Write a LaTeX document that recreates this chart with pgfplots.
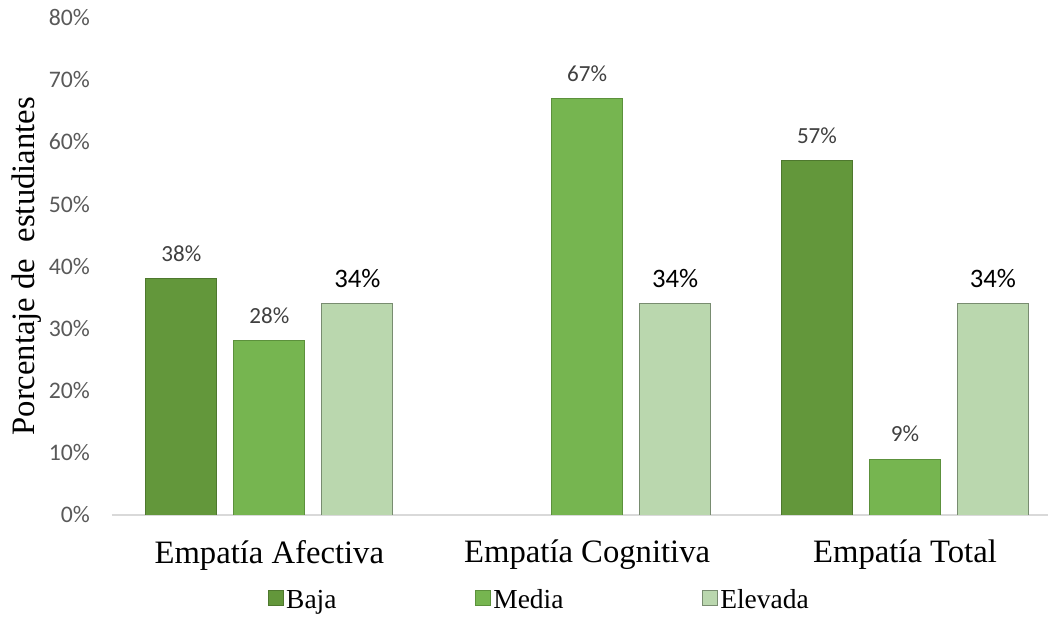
\documentclass[border=0pt]{standalone}
\usepackage{pgfplots}
\pgfplotsset{compat=1.18}
\usepackage{fontspec}
\setmainfont{Liberation Serif}
\newfontfamily\calibri{Carlito}
\definecolor{baja}{RGB}{99,151,59}
\definecolor{bajaedge}{RGB}{78,120,46}
\definecolor{media}{RGB}{118,181,80}
\definecolor{mediaedge}{RGB}{92,145,60}
\definecolor{elevada}{RGB}{186,215,174}
\definecolor{elevadaedge}{RGB}{120,140,112}
\definecolor{tickgray}{RGB}{89,89,89}
\definecolor{labelgray}{RGB}{64,64,64}
\definecolor{axisgray}{RGB}{217,217,217}

\begin{document}
\begin{tikzpicture}
\useasboundingbox (-84pt,-87pt) rectangle (706.5pt,386.25pt);
\begin{axis}[
  at={(0,0)}, anchor=south west,
  scale only axis,
  width=702pt, height=373.125pt,
  xmin=-0.495, xmax=2.45,
  ymin=0, ymax=80,
  ybar, bar width=53.25pt,
  axis x line=bottom, axis y line=left,
  x axis line style={draw=axisgray, line width=1.5pt, -},
  y axis line style={draw=none},
  major tick length=0pt,
  xtick={0,1,2},
  xticklabels={Empatía Afectiva, Empatía Cognitiva, Empatía Total},
  x tick label style={font=\fontsize{24.5}{26}\selectfont, anchor=center, yshift=-30pt},
  ytick={0,10,...,80},
  yticklabel={\pgfmathprintnumber{\tick}\%},
  /pgf/number format/assume math mode=true,
  y tick label style={font=\calibri\fontsize{17.8}{20}\selectfont, color=tickgray, anchor=east, xshift=-13pt},
  ylabel={Porcentaje de \ estudiantes},
  every axis y label/.style={at={(axis description cs:0,0.5)}, xshift=-63.75pt, rotate=90, anchor=center, font=\fontsize{24.5}{26}\selectfont},
  nodes near coords={\pgfmathprintnumber{\pgfplotspointmeta}\%},
  nodes near coords style={anchor=center, yshift=18.75pt, font=\calibri\fontsize{17.3}{19}\selectfont, color=labelgray},
  legend columns=3,
  legend style={at={(axis description cs:0.457,-0.171)}, anchor=center, draw=none,
    font=\fontsize{20.6}{22}\selectfont,
    /tikz/every even column/.append style={column sep=102pt}},
  legend image code/.code={\path[#1] (0pt,-4pt) rectangle (11pt,7pt);},
]
\addplot[fill=baja, draw=bajaedge, line width=0.6pt, bar shift=-66pt]
  coordinates {(0,38) (2,57)};
\addplot[fill=media, draw=mediaedge, line width=0.6pt, bar shift=0pt]
  coordinates {(0,28) (1,67) (2,9)};
\addplot[fill=elevada, draw=elevadaedge, line width=0.6pt, bar shift=66pt,
  nodes near coords style={font=\calibri\fontsize{20}{22}\selectfont, color=black}]
  coordinates {(0,34) (1,34) (2,34)};
\legend{Baja, Media, Elevada}
\end{axis}
\end{tikzpicture}
\end{document}
